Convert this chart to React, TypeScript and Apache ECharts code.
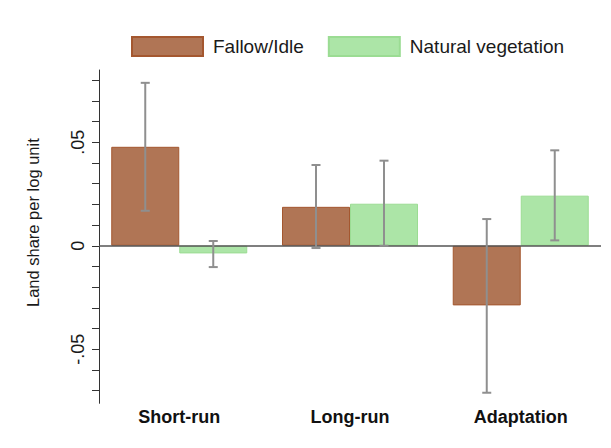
import React, { useEffect, useRef } from "react";
import * as echarts from "echarts";

const categories = ["Short-run", "Long-run", "Adaptation"];
const categoryPositions = [1, 2, 3];
const fallow = [0.0478, 0.0188, -0.0288];
const fallowLow = [0.0169, -0.0011, -0.071];
const fallowHigh = [0.0787, 0.039, 0.0129];
const natural = [-0.0037, 0.0203, 0.0242];
const naturalLow = [-0.0103, 0.0, 0.0026];
const naturalHigh = [0.0023, 0.0411, 0.0461];
const yLabelValues = [-0.05, 0, 0.05];
const yTickValues = [-0.07, -0.06, -0.05, -0.04, -0.03, -0.02, -0.01, 0, 0.01, 0.02, 0.03, 0.04, 0.05, 0.06, 0.07, 0.08];

const BAR_W = 68;
const FALLOW_FILL = "#b07555";
const FALLOW_BORDER = "#a4572f";
const NATURAL_FILL = "#ace5a7";
const NATURAL_BORDER = "#9bdc93";

function fmtY(v: number): string {
  if (Math.abs(v) < 1e-9) return "0";
  const s = v.toFixed(2);
  return s.replace("0.", ".");
}

export default function App() {
  const ref = useRef<HTMLDivElement>(null);
  useEffect(() => {
    if (!ref.current) return;
    const chart = echarts.init(ref.current, null, { renderer: "svg" });
    const errData: number[][] = [];
    categoryPositions.forEach((p, i) => {
      errData.push([p, fallowLow[i], fallowHigh[i], -1]);
      errData.push([p, naturalLow[i], naturalHigh[i], 1]);
    });
    chart.setOption({
      animation: false,
      textStyle: { fontFamily: "Liberation Sans, Arial, sans-serif" },
      legend: {
        left: 131,
        top: 36,
        padding: 0,
        itemWidth: 71,
        itemHeight: 19,
        itemGap: 24,
        icon: "rect",
        textStyle: { fontSize: 19, color: "#1a1a1a", padding: [0, 0, 0, 5] },
        data: ["Fallow/Idle", "Natural vegetation"],
      },
      grid: { left: 99, right: 10, top: 70, bottom: 44.7 },
      xAxis: {
        type: "value",
        min: 0.53,
        max: 3.47,
        splitLine: { show: false },
        axisLine: { show: false, onZero: false },
        axisTick: { show: false },
        axisLabel: {
          customValues: categoryPositions,
          formatter: (v: number) => categories[Math.round(v) - 1] ?? "",
          fontSize: 18,
          fontWeight: "bold",
          color: "#111",
          margin: 5,
        },
      },
      yAxis: {
        type: "value",
        min: -0.0761,
        max: 0.0849,
        splitLine: { show: false },
        axisLine: { show: true, lineStyle: { color: "#333", width: 1 } },
        axisTick: { show: true, customValues: yTickValues, length: 7, lineStyle: { color: "#333" } },
        axisLabel: {
          customValues: yLabelValues,
          formatter: (v: number) => fmtY(v),
          rotate: 90,
          fontSize: 18,
          color: "#1a1a1a",
          margin: 12,
        },
        name: "Land share per log unit",
        nameLocation: "middle",
        nameGap: 58,
        nameTextStyle: { fontSize: 16.5, color: "#1a1a1a", padding: [0, 0, 0, 28] },
      },
      series: [
        {
          name: "Fallow/Idle",
          type: "bar",
          barWidth: BAR_W,
          barGap: "0%",
          data: categoryPositions.map((p, i) => [p, fallow[i]]),
          itemStyle: { color: FALLOW_FILL, borderColor: FALLOW_BORDER, borderWidth: 1 },
          markLine: {
            silent: true,
            symbol: "none",
            label: { show: false },
            lineStyle: { color: "#555", width: 1.5, type: "solid" },
            data: [{ yAxis: 0 }],
          },
          z: 2,
        },
        {
          name: "Natural vegetation",
          type: "bar",
          barWidth: BAR_W,
          barGap: "0%",
          data: categoryPositions.map((p, i) => [p, natural[i]]),
          itemStyle: { color: NATURAL_FILL, borderColor: NATURAL_BORDER, borderWidth: 1 },
          z: 2,
        },
        {
          type: "custom",
          z: 5,
          data: errData,
          renderItem: (params: any, api: any) => {
            const x = api.value(0);
            const lo = api.value(1);
            const hi = api.value(2);
            const side = api.value(3);
            const pLo = api.coord([x, lo]);
            const pHi = api.coord([x, hi]);
            const cx = pLo[0] + side * (BAR_W / 2);
            const cap = 4.5;
            const style = { stroke: "#8f8f8f", lineWidth: 2 };
            return {
              type: "group",
              children: [
                { type: "line", shape: { x1: cx, y1: pLo[1], x2: cx, y2: pHi[1] }, style },
                { type: "line", shape: { x1: cx - cap, y1: pHi[1], x2: cx + cap, y2: pHi[1] }, style },
                { type: "line", shape: { x1: cx - cap, y1: pLo[1], x2: cx + cap, y2: pLo[1] }, style },
              ],
            };
          },
        },
      ],
    });
    return () => chart.dispose();
  }, []);
  return (
    <div
      ref={ref}
      style={{ position: "fixed", left: 0, top: 0, width: 611, height: 448, background: "#fff" }}
    />
  );
}
